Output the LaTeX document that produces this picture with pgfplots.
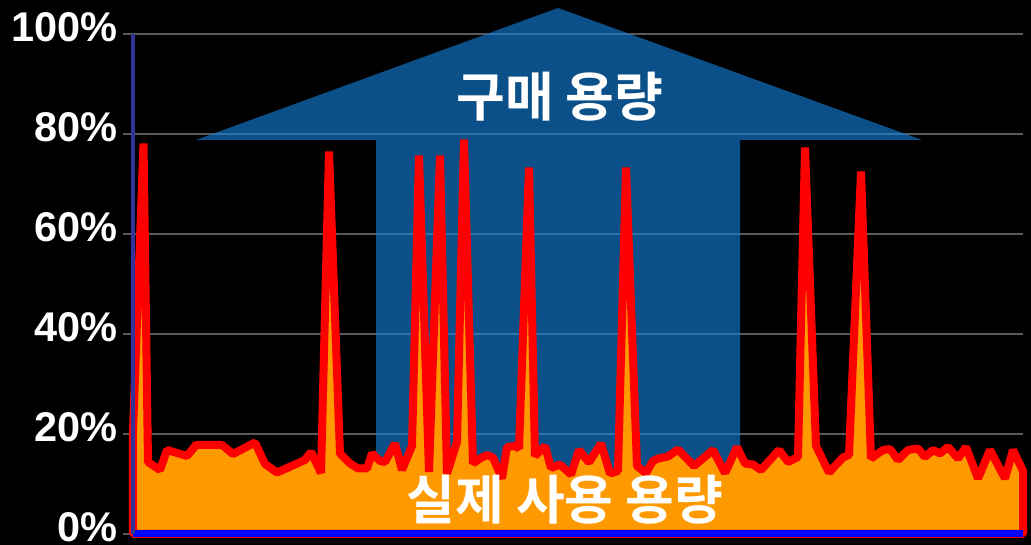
\documentclass[border=0pt]{standalone}
\usepackage{fontspec}
\setmainfont{Liberation Sans}
\newfontfamily\kr{Noto Sans CJK KR}[BoldFont={Noto Sans CJK KR Bold}]
\usepackage{pgfplots}
\pgfplotsset{compat=1.18}

\definecolor{usage}{RGB}{255,153,0}
\definecolor{usageedge}{RGB}{255,0,0}
\definecolor{buyblue}{RGB}{18,130,222}
\definecolor{gridgray}{RGB}{90,90,90}
\definecolor{yaxis}{RGB}{51,51,153}
\definecolor{xaxis}{RGB}{0,0,255}

\begin{document}
\begin{tikzpicture}
% black canvas
\fill[black] (-133pt,-11pt) rectangle (898pt,534pt);
\begin{axis}[
  scale only axis,
  width=890pt, height=500pt,
  xmin=0, xmax=890, ymin=0, ymax=100,
  clip=false,
  axis line style={draw=none},
  xtick=\empty,
  ytick={0,20,40,60,80,100},
  yticklabels={0\%,20\%,40\%,60\%,80\%,100\%},
  ytick pos=left,
  tick align=outside,
  major tick length=10pt,
  major tick style={color=gridgray, line width=2.5pt},
  ymajorgrids,
  grid style={color=gridgray, line width=2.5pt},
  yticklabel style={font=\bfseries\fontsize{41.5}{41.5}\selectfont, text=white,
    inner sep=0pt, anchor=east, xshift=-5pt, yshift=7pt},
]
% purchased capacity arrow
\addplot[fill=buyblue, fill opacity=0.62, draw=none] coordinates {
  (243,0) (243,78.8) (63,78.8) (425,105.2) (789,78.8) (607,78.8) (607,0)
} -- cycle;

% actual usage
\addplot[fill=usage, draw=usageedge, line width=8pt, line join=bevel] coordinates {
(0,20.5) (10.5,78.1) (15,14.4) (27,12.8) (34,16.8) (54,15.6) (63,17.8) (89,17.8)
(100,16.0) (122,18.3) (132,14.0) (144,12.3) (153,13.1) (172,14.8) (178,16.4)
(188,12.2) (196,76.5) (207,16.1) (217,14.1) (225,13.1) (234,13.1) (239,16.1)
(247,14.6) (252,14.4) (262,18.1) (269,12.8) (279,17.6) (286,75.7) (296,12.4)
(307,75.7) (314,12.1) (324,18.4) (331,78.9) (340,14.1) (347,15.1) (354,15.8)
(360,15.3) (369,11.1) (374,17.4) (382,17.6) (386,17.1) (396,73.3) (402,15.6)
(412,17.6) (418,13.2) (427,13.9) (438,11.9) (446,16.8) (456,14.3) (468,18.1)
(477,12.1) (485,12.6) (493,73.3) (504,13.6) (513,12.2) (520,14.6) (525,15.1)
(535,15.5) (545,16.9) (561,13.6) (580,16.8) (592,12.2) (604,17.4) (612,14.1)
(620,13.9) (628,12.8) (646,16.8) (655,14.4) (665,15.4) (672,77.3) (683,17.6)
(696,12.3) (710,15.3) (716,15.8) (728,72.5) (738,15.1) (750,16.8) (757,17.0)
(765,14.8) (775,16.8) (785,17.1) (792,15.4) (800,16.8) (807,16.1) (815,17.4)
(825,15.1) (833,17.4) (845,11.1) (857,16.8) (872,11.1) (880,16.8) (890,12.6)
} \closedcycle;

% axis lines over the area
\draw[color=xaxis, line width=7pt] (axis cs:0,0) -- (axis cs:890,0);
\draw[color=yaxis, line width=3.5pt] (axis cs:0,0) -- (axis cs:0,100);

\node[text=white, font=\kr\bfseries\fontsize{53}{53}\selectfont] at (axis cs:427,87.4) {구매 용량};
\node[text=white, font=\kr\bfseries\fontsize{53}{53}\selectfont] at (axis cs:432,6.9) {실제 사용 용량};
\end{axis}
\end{tikzpicture}
\end{document}
